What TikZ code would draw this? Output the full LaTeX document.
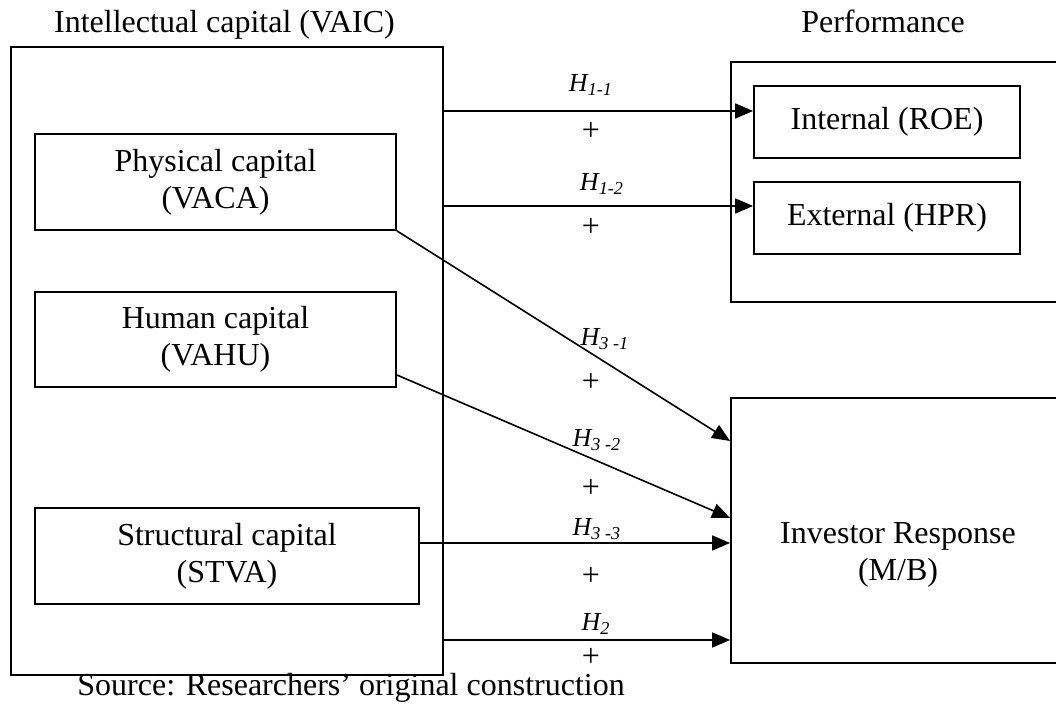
\documentclass[tikz,border=0pt]{standalone}
\usepackage{fontspec}
\setmainfont{Liberation Serif}
\usetikzlibrary{arrows.meta}

\newcommand{\hyp}[1]{\textit{H\textsubscript{#1}}}

\begin{document}
\begin{tikzpicture}[x=0.5pt, y=-0.5pt, >={Triangle[length=9pt, width=7.5pt]},
    box/.style={draw, line width=0.9pt, rectangle, inner sep=0pt, align=center,
        font=\fontsize{16}{18.5}\selectfont},
    txt/.style={inner sep=0pt, align=center, font=\fontsize{16}{18.5}\selectfont},
    hlab/.style={inner sep=0pt, font=\fontsize{13}{15}\selectfont},
    link/.style={->, line width=0.8pt}]
    \useasboundingbox (0,0) rectangle (1056,704);
    \clip (0,0) rectangle (1056,704);

    % Nodes (left: intellectual capital, right: performance)
    \node[box, minimum width=216pt, minimum height=314pt] (vaic) at (227,361) {};
    \node[box, minimum width=180.5pt, minimum height=48pt] (phys) at (215.5,182) {Physical capital\\(VACA)};
    \node[box, minimum width=180.5pt, minimum height=47.5pt] (hum) at (215.5,339.5) {Human capital\\(VAHU)};
    \node[box, minimum width=192pt, minimum height=48pt] (struc) at (227,556) {Structural capital\\(STVA)};

    \node[box, minimum width=167.5pt, minimum height=120pt] (perf) at (898.5,182) {};
    \node[box, minimum width=133pt, minimum height=36pt] (int) at (887,122) {Internal (ROE)};
    \node[box, minimum width=133pt, minimum height=36pt] (ext) at (887,218) {External (HPR)};
    \node[box, minimum width=167.5pt, minimum height=132.5pt] (inv) at (898.5,530.5) {};
    \node[txt] (invtxt) at (898,555) {Investor Response\\(M/B)};

    % Titles
    \node[txt, anchor=base] (ictitle) at (224.5,33) {Intellectual capital (VAIC)};
    \node[txt, anchor=base] (perftitle) at (883,33) {Performance};
    \node[txt, anchor=base west] (source) at (77,696) {Source: Researchers’ original construction};

    % Hypotheses
    \draw[link] (vaic.east |- 0,111) -- (int.west |- 0,111);
    \draw[link] (vaic.east |- 0,206) -- (ext.west |- 0,206);
    \draw[link] (phys.south east) -- (inv.west |- 0,441);
    \draw[link] (hum.east |- 0,375) -- (inv.west |- 0,518);
    \draw[link] (struc.east |- 0,543) -- (inv.west |- 0,543);
    \draw[link] (vaic.east |- 0,640) -- (inv.west |- 0,640);

    % Labels
    \node[hlab] (h11) at (591,85) {\hyp{1-1}};
    \node[txt] (p11) at (591,131) {+};
    \node[hlab] (h12) at (602,184) {\hyp{1-2}};
    \node[txt] (p12) at (591,227) {+};
    \node[hlab] (h31) at (605,339) {\hyp{3 -1}};
    \node[txt] (p31) at (591,382) {+};
    \node[hlab] (h32) at (597,440) {\hyp{3 -2}};
    \node[txt] (p32) at (591,488) {+};
    \node[hlab] (h33) at (597,529) {\hyp{3 -3}};
    \node[txt] (p33) at (591,576) {+};
    \node[hlab] (h2) at (596,624) {\hyp{2}};
    \node[txt] (p2) at (591,657) {+};
\end{tikzpicture}
\end{document}
